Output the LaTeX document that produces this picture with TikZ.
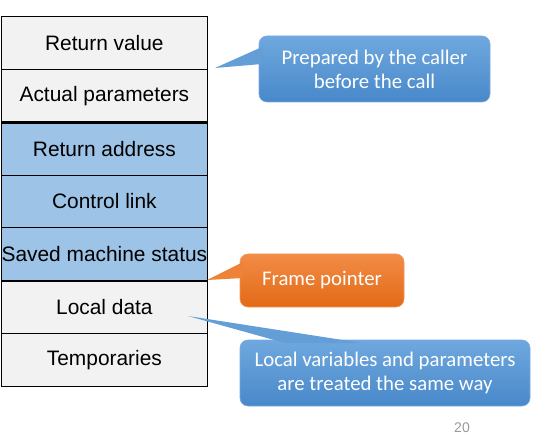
\documentclass[tikz,border=0pt]{standalone}
\usepackage{fontspec}
\setmainfont{Liberation Sans}
\newfontfamily\calfont{Carlito}
\begin{document}
\begin{tikzpicture}[x=1pt,y=-1pt,
  cell/.style={draw=black,line width=0.8pt,minimum width=206pt,minimum height=52.86pt,inner sep=0pt,font=\fontsize{20.9}{24}\selectfont,anchor=north west},
  grey/.style={cell,fill=cellgrey},
  blue/.style={cell,fill={rgb,255:red,157;green,195;blue,230}},
  callb/.style={rounded corners=8pt,top color={rgb,255:red,111;green,168;blue,222},bottom color={rgb,255:red,72;green,136;blue,202},draw={rgb,255:red,120;green,170;blue,220},line width=0.6pt,text=white,align=center,font=\calfont\fontsize{20.8}{24}\selectfont,inner sep=0pt},
  callo/.style={rounded corners=8pt,top color={rgb,255:red,242;green,140;blue,70},bottom color={rgb,255:red,226;green,106;blue,22},draw={rgb,255:red,240;green,150;blue,90},line width=0.6pt,text=white,align=center,font=\calfont\fontsize{20.8}{24}\selectfont,inner sep=0pt},
  ptrb/.style={fill={rgb,255:red,100;green,158;blue,214}},
  ptro/.style={fill={rgb,255:red,238;green,130;blue,55}}
]
\definecolor{cellgrey}{RGB}{242,242,242}
\useasboundingbox (0,0) rectangle (548,435);
\node[grey] (rv) at (1,16) {Return value};
\node[grey] (ap) at (1,68.86) {Actual parameters};
\node[blue] (ra) at (1,121.71) {Return address};
\node[blue] (cl) at (1,174.57) {Control link};
\node[blue] (sm) at (1,227.43) {Saved machine status};
\node[grey] (ld) at (1,280.29) {Local data};
\node[grey] (tp) at (1,333.14) {Temporaries};
\draw[line width=2.2pt] (ap.south west) -- (ap.south east);
\draw[line width=2.2pt] (sm.south west) -- (sm.south east);
% callout 1
\coordinate (t1) at (215,68);
\node[callb,minimum width=231pt,minimum height=66pt] (c1) at (374.5,69) {Prepared by the caller\\before the call};
\fill[ptrb] (t1) -- (262,47) -- (262,64) -- cycle;
% callout 2
\coordinate (t2) at (207,280);
\node[callo,minimum width=164pt,minimum height=53pt] (c2) at (322,280.5) {Frame pointer};
\fill[ptro] (t2) -- (243,262) -- (243,278) -- cycle;
% callout 3
\coordinate (t3) at (188,316);
\node[callb,minimum width=290pt,minimum height=66pt] (c3) at (385,373) {Local variables and parameters\\are treated the same way};
\fill[ptrb] (t3) -- (285,343) -- (362,343) -- cycle;
\node[text=gray!80,font=\fontsize{14}{16}\selectfont,anchor=north,inner sep=0pt] (pg) at (462,423) {20};
\end{tikzpicture}
\end{document}
